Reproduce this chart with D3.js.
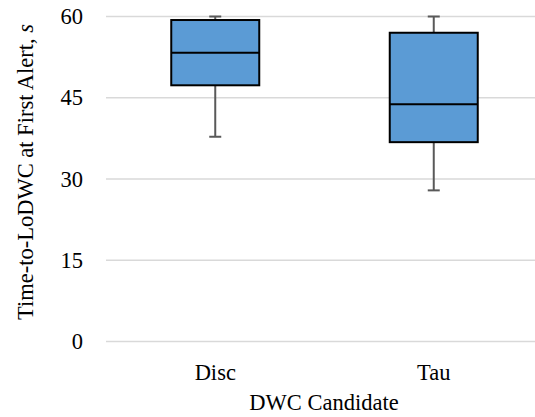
<!DOCTYPE html>
<html>
<head>
<meta charset="utf-8">
<script src="https://cdn.jsdelivr.net/npm/d3@7"></script>
<style>
  body { margin: 0; background: #fff; }
  svg text { font-family: 'Liberation Serif', Tinos, 'Times New Roman', Times, 'DejaVu Serif', serif !important; fill: #000; }
</style>
</head>
<body>
<svg id="chart" width="535" height="417"></svg>
<script>
// box stats
const categories = ['Disc', 'Tau'];
const mins    = [37.8, 27.9];
const q1s     = [47.3, 36.8];
const medians = [53.3, 43.8];
const q3s     = [59.35, 57.0];
const maxs    = [60, 60];
const yTicks  = [0, 15, 30, 45, 60];

const data = categories.map((c, i) => ({
  name: c, min: mins[i], q1: q1s[i], median: medians[i], q3: q3s[i], max: maxs[i]
}));

const svg = d3.select('#chart');
const fontSize = 22.5;

const x = d3.scaleBand()
  .domain(categories)
  .range([106, 543]);

const y = d3.scaleLinear()
  .domain([0, 60])
  .range([341.5, 16.5]);

// gridlines
svg.append('g')
  .attr('class', 'grid')
  .selectAll('line')
  .data(yTicks)
  .join('line')
  .attr('x1', 106)
  .attr('x2', 543)
  .attr('y1', d => y(d))
  .attr('y2', d => y(d))
  .attr('stroke', '#d9d9d9')
  .attr('stroke-width', 1.5);

// y axis labels
const yAxis = d3.axisLeft(y).tickValues(yTicks).tickSize(0).tickPadding(0);
svg.append('g')
  .attr('transform', 'translate(83,0)')
  .call(yAxis)
  .attr('font-family', null)
  .call(g => g.select('.domain').remove())
  .selectAll('text')
  .attr('font-size', fontSize)
  .attr('fill', '#000');

// x axis labels
const xAxis = d3.axisBottom(x).tickSize(0).tickPadding(0);
svg.append('g')
  .attr('transform', 'translate(0,364)')
  .call(xAxis)
  .attr('font-family', null)
  .call(g => g.select('.domain').remove())
  .selectAll('text')
  .attr('font-size', fontSize)
  .attr('fill', '#000')
  .attr('dy', '0.71em');

const boxW = 88;
const capW = 12;

const boxes = svg.append('g')
  .selectAll('g')
  .data(data)
  .join('g')
  .attr('transform', d => `translate(${x(d.name) + x.bandwidth() / 2},0)`);

// whiskers
boxes.append('line')
  .attr('y1', d => y(d.max)).attr('y2', d => y(d.q3))
  .attr('stroke', '#595959').attr('stroke-width', 2);
boxes.append('line')
  .attr('y1', d => y(d.q1)).attr('y2', d => y(d.min))
  .attr('stroke', '#595959').attr('stroke-width', 2);
boxes.append('line')
  .attr('x1', -capW / 2).attr('x2', capW / 2)
  .attr('y1', d => y(d.max)).attr('y2', d => y(d.max))
  .attr('stroke', '#595959').attr('stroke-width', 2);
boxes.append('line')
  .attr('x1', -capW / 2).attr('x2', capW / 2)
  .attr('y1', d => y(d.min)).attr('y2', d => y(d.min))
  .attr('stroke', '#595959').attr('stroke-width', 2);

// box
boxes.append('rect')
  .attr('x', -boxW / 2)
  .attr('width', boxW)
  .attr('y', d => y(d.q3))
  .attr('height', d => y(d.q1) - y(d.q3))
  .attr('fill', '#5b9bd5')
  .attr('stroke', '#000')
  .attr('stroke-width', 2);

// median
boxes.append('line')
  .attr('x1', -boxW / 2).attr('x2', boxW / 2)
  .attr('y1', d => y(d.median)).attr('y2', d => y(d.median))
  .attr('stroke', '#000').attr('stroke-width', 2);

// axis titles
svg.append('text')
  .attr('x', 324)
  .attr('y', 410)
  .attr('text-anchor', 'middle')
  .attr('font-size', fontSize)
  .text('DWC Candidate');

const yTitle = svg.append('text')
  .attr('transform', 'translate(33,172) rotate(-90)')
  .attr('text-anchor', 'middle')
  .attr('font-size', fontSize);
yTitle.append('tspan').text('Time-to-LoDWC at First Alert, ');
yTitle.append('tspan').attr('font-style', 'italic').text('s');
</script>
</body>
</html>
